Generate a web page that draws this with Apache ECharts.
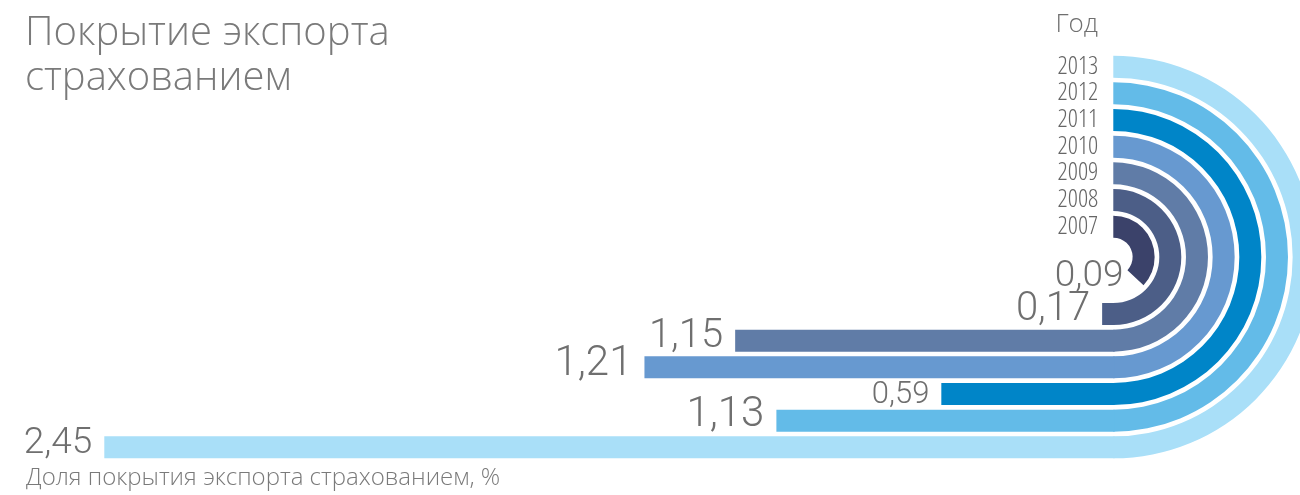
<!DOCTYPE html>
<html><head><meta charset="utf-8">
<script src="https://cdn.jsdelivr.net/npm/echarts@6/dist/echarts.min.js"></script>
<style>html,body{margin:0;padding:0;background:#fff}#c{width:1300px;height:495px}</style>
</head><body><div id="c"></div>
<script>
// ---- data ----
const years = ['2007', '2008', '2009', '2010', '2011', '2012', '2013'];
const values = [0.09, 0.17, 1.15, 1.21, 0.59, 1.13, 2.45];
// sweep of the curved part of each band, degrees
const arcSweep = [133, 180, 180, 180, 180, 180, 180];
// straight part of each band, in % units (scale set by 2013 = 2,45)
const straightPart = [0, 0.03, 0.92, 1.14, 0.42, 0.82, 2.45];
const titleText = 'Покрытие экспорта\nстрахованием';
const axisTitle = 'Год';
const caption = 'Доля покрытия экспорта страхованием, %';

// ---- styles ----
const colors = ['#3b426a', '#4c5e87', '#607ca7', '#6799d0', '#0085c8', '#63bbe8', '#a9dff8'];
const labelSize = [37, 40, 40, 42, 31, 42, 37];
const labelOffset = [[21, -11], [0, -4], [0, -4], [0, -3], [0, 1], [0, -5], [0, -4]];
const TXT = '#6f6f6f';
const NUMFONT = 'Roboto, sans-serif';
const LIGHT = '"Open Sans", "Roboto", sans-serif';

const fmt = v => String(v.toFixed(2)).replace('.', ',');

const chart = echarts.init(document.getElementById('c'), null, {renderer: 'canvas'});
chart.setOption({
  animation: false,
  backgroundColor: '#fff',
  title: [
    {text: titleText, left: 20, top: 6,
     textStyle: {fontSize: 40, fontWeight: 300, color: '#7a7a7a', fontFamily: LIGHT, lineHeight: 45}},
    {text: axisTitle, right: 197, top: 7,
     textStyle: {fontSize: 26, fontWeight: 300, color: TXT, fontFamily: LIGHT}},
    {text: caption, left: 21, top: 461,
     textStyle: {fontSize: 24, fontWeight: 300, color: '#7a7a7a', fontFamily: LIGHT}}
  ],
  polar: {center: [1113.3, 257], radius: [17, 203.7]},
  angleAxis: {type: 'value', min: 0, max: 360, startAngle: 90, clockwise: true, show: false},
  radiusAxis: {
    type: 'category', data: years, z: 10,
    axisLine: {show: false}, axisTick: {show: false}, splitLine: {show: false},
    axisLabel: {interval: 0, margin: 15, fontSize: 25, fontStyle: 'condensed', fontWeight: 300,
                color: '#666666', fontFamily: LIGHT}
  },
  grid: {left: 104.3, right: 185.5, top: 274, height: 186.7},
  xAxis: {type: 'value', min: 0, max: 2.45, inverse: true, show: false},
  yAxis: {type: 'category', data: years, inverse: true, show: false},
  series: [
    {
      type: 'bar', coordinateSystem: 'polar', barWidth: 22, z: 1, silent: true,
      data: arcSweep.map((v, i) => ({value: v, itemStyle: {color: colors[i]}}))
    },
    {
      type: 'bar', xAxisIndex: 0, yAxisIndex: 0, barWidth: 22, z: 2, silent: true,
      data: straightPart.map((v, i) => ({
        value: v,
        itemStyle: {color: colors[i]},
        label: {
          show: true, position: 'left', distance: 12,
          formatter: fmt(values[i]),
          fontSize: labelSize[i], fontWeight: 300, fontFamily: NUMFONT, color: TXT,
          offset: labelOffset[i]
        }
      }))
    }
  ]
});
</script></body></html>
